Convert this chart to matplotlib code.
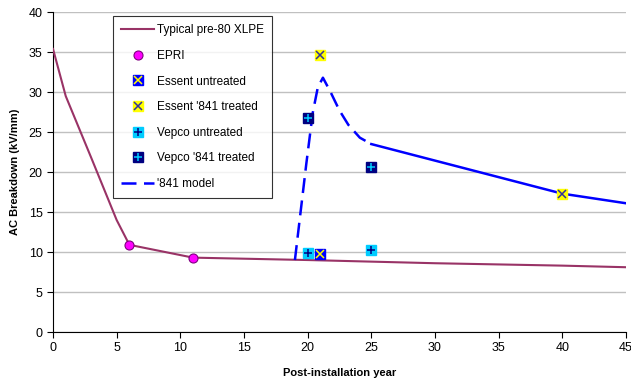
import matplotlib.pyplot as plt
from matplotlib.legend_handler import HandlerTuple

plt.rcParams['font.family'] = ['Liberation Sans', 'DejaVu Sans']

# typical pre-80 XLPE curve
xlpe_year = [0, 1, 3, 5, 6, 11, 20, 25, 30, 35, 40, 45]
xlpe_kv = [35.4, 29.5, 21.8, 14.0, 10.9, 9.3, 9.0, 8.8, 8.6, 8.45, 8.3, 8.1]

# measured points
epri_year = [6, 11]
epri_kv = [10.9, 9.3]
essent_un_year = [21]
essent_un_kv = [9.7]
essent_tr_year = [21, 40]
essent_tr_kv = [34.6, 17.3]
vepco_un_year = [20, 25]
vepco_un_kv = [9.9, 10.2]
vepco_tr_year = [20, 25]
vepco_tr_kv = [26.7, 20.6]

# '841 model (dashed rise + solid decay)
model_dash_year = [19.0, 19.4, 19.9, 20.4, 20.8, 21.2, 21.8, 22.5, 23.2, 24.1, 25.0]
model_dash_kv = [9.0, 14.4, 21.1, 27.4, 30.6, 31.8, 30.0, 27.7, 25.9, 24.3, 23.5]
model_solid_year = [25.0, 40, 45]
model_solid_kv = [23.5, 17.3, 16.1]

fig = plt.figure(figsize=(6.31, 3.79), dpi=100)
ax = fig.add_axes([0.084, 0.124, 0.908, 0.844])

ln_xlpe, = ax.plot(xlpe_year, xlpe_kv, color='#993366', lw=1.5, zorder=3)
ln_model, = ax.plot(model_dash_year, model_dash_kv, color='blue', lw=1.8,
                    dashes=(6, 3), zorder=3)
ax.plot(model_solid_year, model_solid_kv, color='blue', lw=1.8, zorder=3)

ms = 6.5
epri, = ax.plot(epri_year, epri_kv, 'o', ms=6.5, mfc='#ff00ff', mec='#800080',
                mew=0.8, ls='none', zorder=5)


def square_pt(x, y, face, cross, mark):
    sq, = ax.plot(x, y, 's', ms=ms, mfc=face, mec=face, ls='none', zorder=5)
    cr, = ax.plot(x, y, mark, ms=ms - 1, mec=cross, mew=1.1, ls='none', zorder=6)
    return (sq, cr)


h_eu = square_pt(essent_un_year, essent_un_kv, '#0000ff', '#ffff00', 'x')
h_et = square_pt(essent_tr_year, essent_tr_kv, '#ffff00', '#333399', 'x')
h_vu = square_pt(vepco_un_year, vepco_un_kv, '#00ccff', '#000080', '+')
h_vt = square_pt(vepco_tr_year, vepco_tr_kv, '#000080', '#00ccff', '+')

ax.set_xlim(0, 45)
ax.set_ylim(0, 40)
ax.set_xticks(range(0, 46, 5))
ax.set_yticks(range(0, 41, 5))
ax.yaxis.grid(True, color='#c0c0c0', lw=1)
ax.set_axisbelow(True)
for s in ['top', 'right']:
    ax.spines[s].set_visible(False)
ax.tick_params(labelsize=9, direction='out', length=4)
ax.set_xlabel('Post-installation year', fontsize=8, fontweight='bold', labelpad=10)
ax.set_ylabel('AC Breakdown (kV/mm)', fontsize=8, fontweight='bold', labelpad=6)

leg = ax.legend([ln_xlpe, epri, h_eu, h_et, h_vu, h_vt, ln_model],
                ['Typical pre-80 XLPE', 'EPRI', 'Essent untreated',
                 "Essent '841 treated", 'Vepco untreated', "Vepco '841 treated",
                 "'841 model"],
                handler_map={tuple: HandlerTuple(ndivide=1)},
                loc='upper left', bbox_to_anchor=(0.1047, 0.9875), fontsize=8.5,
                frameon=True, fancybox=False, edgecolor='black',
                handlelength=2.8, labelspacing=1.15, borderpad=0.7,
                handletextpad=0.2, borderaxespad=0)
leg.get_frame().set_linewidth(0.8)
leg.set_zorder(10)

fig.savefig('out.png', dpi=100)
